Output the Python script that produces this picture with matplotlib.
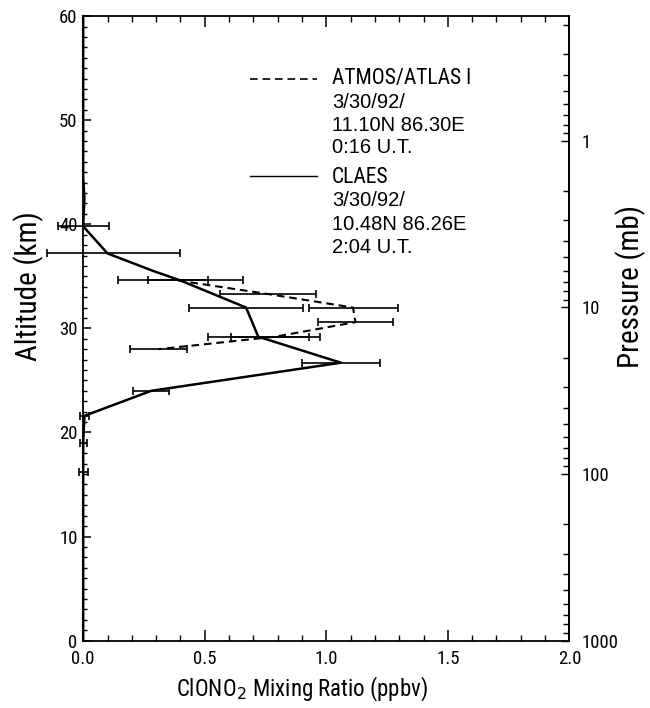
import numpy as np
import matplotlib
matplotlib.use("Agg")
import matplotlib.pyplot as plt
from matplotlib import font_manager
from matplotlib.ticker import MultipleLocator, FixedLocator, NullFormatter
from matplotlib.lines import Line2D

# region data
# CLAES profile line (altitude km, ClONO2 ppbv)
claes_line_alt = [60.0, 44.5, 42.5, 39.8, 37.2, 35.5, 34.6, 32.0, 29.2, 26.7, 24.0, 21.6, 19.0, 16.2, 0.0]
claes_line_val = [0.0, 0.0, 0.005, 0.0, 0.10, 0.29, 0.40, 0.67, 0.72, 1.06, 0.28, 0.005, 0.0, 0.0, 0.0]

# CLAES points with error bars
claes_alt = [39.8, 37.2, 34.6, 32.0, 29.2, 26.7, 24.0, 21.6, 19.0, 16.2]
claes_val = [0.0, 0.10, 0.40, 0.67, 0.72, 1.06, 0.28, 0.005, 0.0, 0.0]
claes_err_lo = [0.105, 0.25, 0.257, 0.235, 0.207, 0.161, 0.074, 0.02, 0.015, 0.018]
claes_err_hi = [0.105, 0.30, 0.257, 0.235, 0.207, 0.161, 0.074, 0.02, 0.015, 0.018]

# ATMOS/ATLAS I points with error bars
atmos_alt = [34.6, 33.3, 32.0, 30.6, 29.2, 28.0]
atmos_val = [0.39, 0.76, 1.11, 1.12, 0.79, 0.31]
atmos_err = [0.125, 0.196, 0.183, 0.153, 0.183, 0.118]

x_ticks = [0.0, 0.5, 1.0, 1.5, 2.0]
y_ticks = [0, 10, 20, 30, 40, 50, 60]
p_ticks = [1, 10, 100, 1000]
p_minor = [m * d for d in [0.1, 1, 10, 100] for m in range(2, 10)]

atmos_label = ["ATMOS/ATLAS I", "3/30/92/", "11.10N 86.30E", "0:16 U.T."]
claes_label = ["CLAES", "3/30/92/", "10.48N 86.26E", "2:04 U.T."]
# endregion data

H = 6.95  # scale height used for the pressure axis


def alt2p(z):
    return 1000.0 * np.exp(-np.asarray(z, dtype=float) / H)


def p2alt(p):
    p = np.clip(np.asarray(p, dtype=float), 1e-6, None)
    return H * np.log(1000.0 / p)


# narrow face for the big labels if one is installed, else plain Liberation
names = {f.name for f in font_manager.fontManager.ttflist}
cond = None
for n in ["Roboto Condensed", "Liberation Sans Narrow", "Open Sans Condensed",
          "Noto Sans Condensed", "DejaVu Sans Condensed", "Arial Narrow"]:
    if n in names:
        cond = n
        break
plain = ["Liberation Sans", "DejaVu Sans"]
if cond:
    big = [cond, "DejaVu Sans"]
    lab_fs, leg_fs, tick_fs = 16.5, 15.5, 13.5
else:
    big = plain
    lab_fs, leg_fs, tick_fs = 14, 13.5, 12.5

plt.rcParams["font.family"] = big
plt.rcParams["lines.scale_dashes"] = False

fig = plt.figure(figsize=(6.5, 7.08), dpi=100)
ax = fig.add_axes([0.128, 0.0952, 0.748, 0.882])

ax.plot(claes_line_val, claes_line_alt, color="black", lw=1.8, zorder=3, clip_on=False)
ax.errorbar(claes_val, claes_alt, xerr=[claes_err_lo, claes_err_hi], fmt="none",
            ecolor="black", elinewidth=1.2, capsize=2.8, capthick=1.2, clip_on=False, zorder=4)

ax.plot(atmos_val, atmos_alt, color="black", lw=1.5, linestyle=(0, (5.5, 3.5)), zorder=3)
ax.errorbar(atmos_val, atmos_alt, xerr=atmos_err, fmt="none",
            ecolor="black", elinewidth=1.2, capsize=2.8, capthick=1.2, clip_on=False, zorder=4)

ax.set_xlim(0, 2)
ax.set_ylim(0, 60)
ax.set_xticks(x_ticks)
ax.set_xticklabels([f"{v:.1f}" for v in x_ticks])
ax.xaxis.set_minor_locator(MultipleLocator(0.1))
ax.set_yticks(y_ticks)
ax.yaxis.set_minor_locator(MultipleLocator(1))

ax.tick_params(axis="x", which="major", direction="in", length=8, width=1.1,
               top=True, labelsize=tick_fs, pad=7)
ax.tick_params(axis="x", which="minor", direction="in", length=4, width=1.0, top=True)
ax.tick_params(axis="y", which="major", direction="in", length=6, width=1.1,
               labelsize=tick_fs, pad=4)
ax.tick_params(axis="y", which="minor", direction="in", length=2.8, width=1.0)

for s in ax.spines.values():
    s.set_linewidth(1.3)

ax.set_xlabel("ClONO$_2$ Mixing Ratio (ppbv)", fontsize=lab_fs, va="center")
ax.xaxis.set_label_coords(0.45, -0.079)
ax.set_ylabel("Altitude (km)", fontsize=lab_fs + 4.5, va="center")
ax.yaxis.set_label_coords(-0.113, 0.567)

sec = ax.secondary_yaxis("right", functions=(alt2p, p2alt))
sec.set_yticks(p_ticks)
sec.set_yticklabels([str(p) for p in p_ticks])
sec.yaxis.set_minor_locator(FixedLocator(p_minor))
sec.yaxis.set_minor_formatter(NullFormatter())
sec.tick_params(axis="y", which="major", direction="in", length=6, width=1.0,
                labelsize=tick_fs, pad=9)
sec.tick_params(axis="y", which="minor", direction="in", length=4, width=1.0)
sec.spines["right"].set_linewidth(1.3)
sec.set_ylabel("Pressure (mb)", fontsize=lab_fs + 4.5, va="center")
sec.yaxis.set_label_coords(1.125, 0.567, transform=ax.transAxes)

# legend drawn by hand, as in the original figure
tx = 0.512
ax.add_line(Line2D([0.343, 0.48], [0.900, 0.900], transform=ax.transAxes,
                   color="black", lw=1.2, linestyle=(0, (5.5, 3.5))))
ax.add_line(Line2D([0.343, 0.48], [0.744, 0.744], transform=ax.transAxes,
                   color="black", lw=1.0))
ys_a = [0.900, 0.862, 0.825, 0.789]
ys_c = [0.742, 0.704, 0.667, 0.630]
for i, (t, y) in enumerate(zip(atmos_label, ys_a)):
    ax.text(tx, y, t, transform=ax.transAxes, va="center", ha="left",
            fontsize=leg_fs if i == 0 else 14.5, family=big if i == 0 else plain)
for i, (t, y) in enumerate(zip(claes_label, ys_c)):
    ax.text(tx, y, t, transform=ax.transAxes, va="center", ha="left",
            fontsize=leg_fs if i == 0 else 14.5, family=big if i == 0 else plain)

fig.savefig("out.png", dpi=100)
